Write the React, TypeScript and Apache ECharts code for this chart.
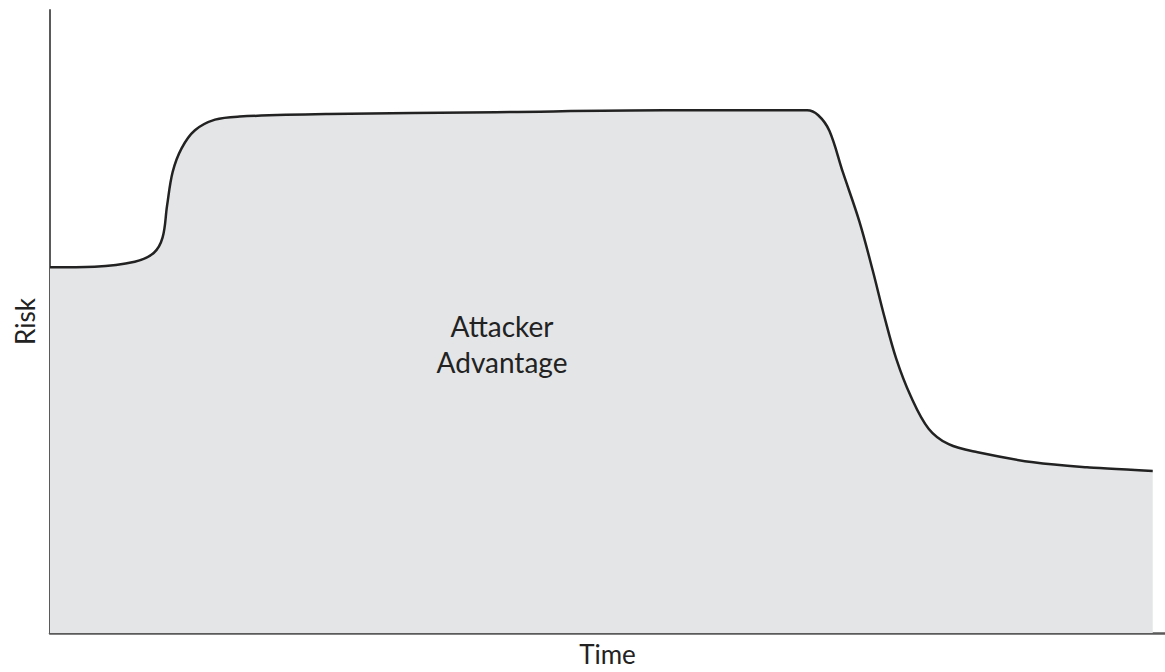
import React, { useEffect, useRef } from "react";
import * as echarts from "echarts";

// Time (0..100) and Risk (0..100)
const timeValues = [
  0, 4.0, 7.6, 9.3, 10.1, 10.5, 11.0, 11.8, 13.0, 14.8, 17.0, 25.0,
  40.0, 55.0, 67.9, 68.9, 69.9, 71.1, 72.6, 73.8, 74.8, 75.9, 77.2, 78.8,
  80.6, 83.2, 88.2, 93.0, 98.9,
];
const riskValues = [
  58.7, 58.8, 59.6, 61.0, 63.5, 68.6, 74.0, 77.8, 80.7, 82.4, 82.9, 83.3,
  83.6, 83.9, 83.9, 83.1, 80.6, 74.0, 66.0, 58.1, 51.0, 44.0, 38.0, 32.8,
  30.3, 29.0, 27.4, 26.6, 26.0,
];
const areaLabel = "Attacker\nAdvantage";
const xName = "Time";
const yName = "Risk";

export default function App() {
  const ref = useRef<HTMLDivElement>(null);
  useEffect(() => {
    if (!ref.current) return;
    const chart = echarts.init(ref.current, undefined, { renderer: "svg" });
    const font = "Lato, 'Open Sans', sans-serif";
    chart.setOption({
      animation: false,
      backgroundColor: "#ffffff",
      grid: { left: 50, right: 0, top: 10, bottom: 36, containLabel: false },
      xAxis: {
        type: "value",
        min: 0,
        max: 100,
        name: xName,
        nameLocation: "middle",
        nameGap: 8,
        nameTextStyle: { fontFamily: font, fontSize: 26, color: "#222", verticalAlign: "top" },
        axisLine: { show: true, onZero: false, lineStyle: { color: "#5a5a5a", width: 2.5 } },
        axisTick: { show: false },
        axisLabel: { show: false },
        splitLine: { show: false },
      },
      yAxis: {
        type: "value",
        min: 0,
        max: 100,
        name: yName,
        nameLocation: "middle",
        nameGap: 12,
        nameTextStyle: { fontFamily: font, fontSize: 26, color: "#222" },
        axisLine: { show: true, onZero: false, lineStyle: { color: "#5a5a5a", width: 2 } },
        axisTick: { show: false },
        axisLabel: { show: false },
        splitLine: { show: false },
      },
      series: [
        {
          type: "line",
          data: timeValues.map((t, i) => [t, riskValues[i]]),
          smooth: 0.35,
          showSymbol: false,
          lineStyle: { color: "#222", width: 2.5 },
          areaStyle: { color: "#e4e5e7", opacity: 1 },
          silent: true,
        },
      ],
      graphic: [
        {
          type: "text",
          x: 502,
          y: 344,
          z: 100,
          style: {
            text: areaLabel,
            align: "center",
            verticalAlign: "middle",
            fontFamily: font,
            fontSize: 28,
            lineHeight: 36,
            fill: "#222",
          },
        },
      ],
    });
    return () => chart.dispose();
  }, []);
  return (
    <div
      ref={ref}
      style={{ position: "fixed", left: 0, top: 0, width: 1165, height: 672 }}
    />
  );
}
